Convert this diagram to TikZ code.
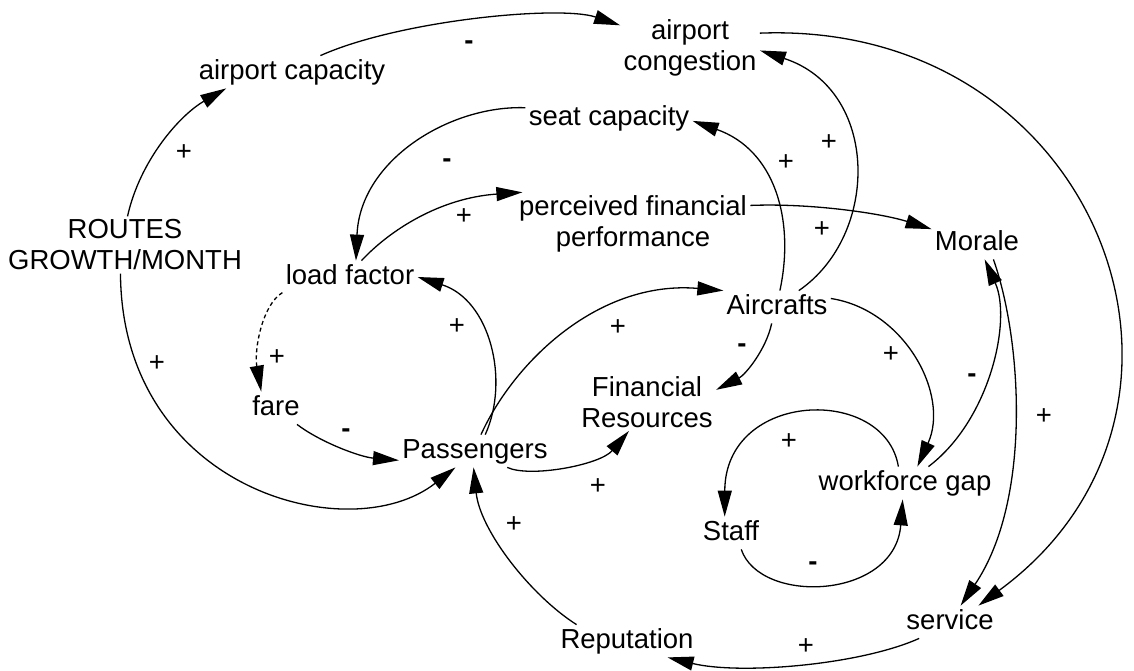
\documentclass[tikz,border=0pt]{standalone}
\usepackage{fontspec}
\setmainfont{Liberation Sans}
\usetikzlibrary{arrows.meta}
\begin{document}
\begin{tikzpicture}[x=0.5pt,y=-0.5pt,
  var/.style={font=\fontsize{13.75}{15.5}\selectfont, inner sep=1.5pt, text height=10pt, text depth=3pt},
  var2/.style={font=\fontsize{13.75}{15.5}\selectfont, inner sep=1.5pt, align=center},
  link/.style={line width=0.65pt, -{Triangle[length=13pt,width=7pt]}},
  dotlink/.style={link, dash pattern=on 2pt off 1.5pt},
  plussign/.style={font=\fontsize{13.75}{15.5}\selectfont, inner sep=0pt},
  minussign/.style={font=\fontsize{13.75}{15.5}\selectfont\bfseries, inner sep=0pt}]
\useasboundingbox (0,0) rectangle (1134,670);

% variables
\node[var]  (cap)    at (292,72)  {airport capacity};
\node[var2] (cong)   at (690,48)  {airport\\congestion};
\node[var]  (seat)   at (609,118) {seat capacity};
\node[var2] (routes) at (125,245) {ROUTES\\GROWTH/MONTH};
\node[var2] (perc)   at (633,224) {perceived financial\\performance};
\node[var]  (morale) at (977,243) {Morale};
\node[var]  (load)   at (350,277) {load factor};
\node[var]  (air)    at (777,307) {Aircrafts};
\node[var]  (fare)   at (276,408) {fare};
\node[var2] (fin)    at (647,402) {Financial\\Resources};
\node[var]  (pass)   at (475,451) {Passengers};
\node[var]  (wg)     at (905,483) {workforce gap};
\node[var]  (staff)  at (731,533) {Staff};
\node[var]  (rep)    at (627,641) {Reputation};
\node[var]  (serv)   at (950,622) {service};

% causal links
\draw[link] (cap.30) .. controls (400,20) and (560,5) .. (cong.162);
\draw[link] (routes.85) .. controls (140,160) and (180,115) .. (cap.194);
\draw[link] (routes.261) .. controls (122,490) and (350,550) .. (pass.220);
\draw[link] (seat.173) .. controls (450,105) and (360,160) .. (load.70);
\draw[link] (load.55) .. controls (390,230) and (440,198) .. (perc.164);
\draw[link] (perc.9) .. controls (810,203) and (880,213) .. (morale.163);
\draw[link] (air.80) .. controls (795,220) and (775,150) .. (seat.-2);
\draw[link] (air.37) .. controls (880,235) and (880,90) .. (cong.-2);
\draw[link] (pass.58) .. controls (510,380) and (490,300) .. (load.0);
\draw[link] (pass.70) .. controls (515,360) and (600,280) .. (air.163);
\draw[link] (air.252) .. controls (766,350) and (745,375) .. (fin.10);
\draw[dotlink] (load.193) .. controls (262,305) and (254,350) .. (fare.132);
\draw[link] (fare.-38) .. controls (320,442) and (360,457) .. (pass.187);
\draw[link] (pass.-27) .. controls (530,478) and (600,465) .. (fin.238);
\draw[link] (air.9) .. controls (905,310) and (950,395) .. (wg.53);
\draw[link] (wg.35) .. controls (990,420) and (1012,320) .. (morale.-65);
\draw[link] (morale.-45) .. controls (1022,340) and (1032,500) .. (serv.57);
\draw[link] (cong.12) .. controls (1100,20) and (1245,410) .. (serv.30);
\draw[link] (wg.112) .. controls (885,385) and (725,390) .. (staff.111);
\draw[link] (staff.-58) .. controls (760,605) and (895,600) .. (wg.262);
\draw[link] (serv.208) .. controls (860,665) and (740,675) .. (rep.-22);
\draw[link] (rep.162) .. controls (530,595) and (480,530) .. (pass.265);

% link polarities
\node[minussign] (p1)  at (469,45)   {-};
\node[plussign]  (p2)  at (184,153)  {+};
\node[plussign]  (p3)  at (157,364)  {+};
\node[minussign] (p4)  at (447,163)  {-};
\node[plussign]  (p5)  at (464,217)  {+};
\node[plussign]  (p6)  at (822,230)  {+};
\node[plussign]  (p7)  at (786,163)  {+};
\node[plussign]  (p8)  at (829,143)  {+};
\node[plussign]  (p9)  at (457,327)  {+};
\node[plussign]  (p10) at (618,328)  {+};
\node[minussign] (p11) at (742,348)  {-};
\node[plussign]  (p12) at (277,358)  {+};
\node[minussign] (p13) at (346,433)  {-};
\node[plussign]  (p14) at (598,487)  {+};
\node[plussign]  (p15) at (891,355)  {+};
\node[minussign] (p16) at (972,378)  {-};
\node[plussign]  (p17) at (1044,417) {+};
\node[plussign]  (p18) at (789,442)  {+};
\node[minussign] (p19) at (813,566)  {-};
\node[plussign]  (p20) at (806,647)  {+};
\node[plussign]  (p21) at (514,525)  {+};
\end{tikzpicture}
\end{document}
